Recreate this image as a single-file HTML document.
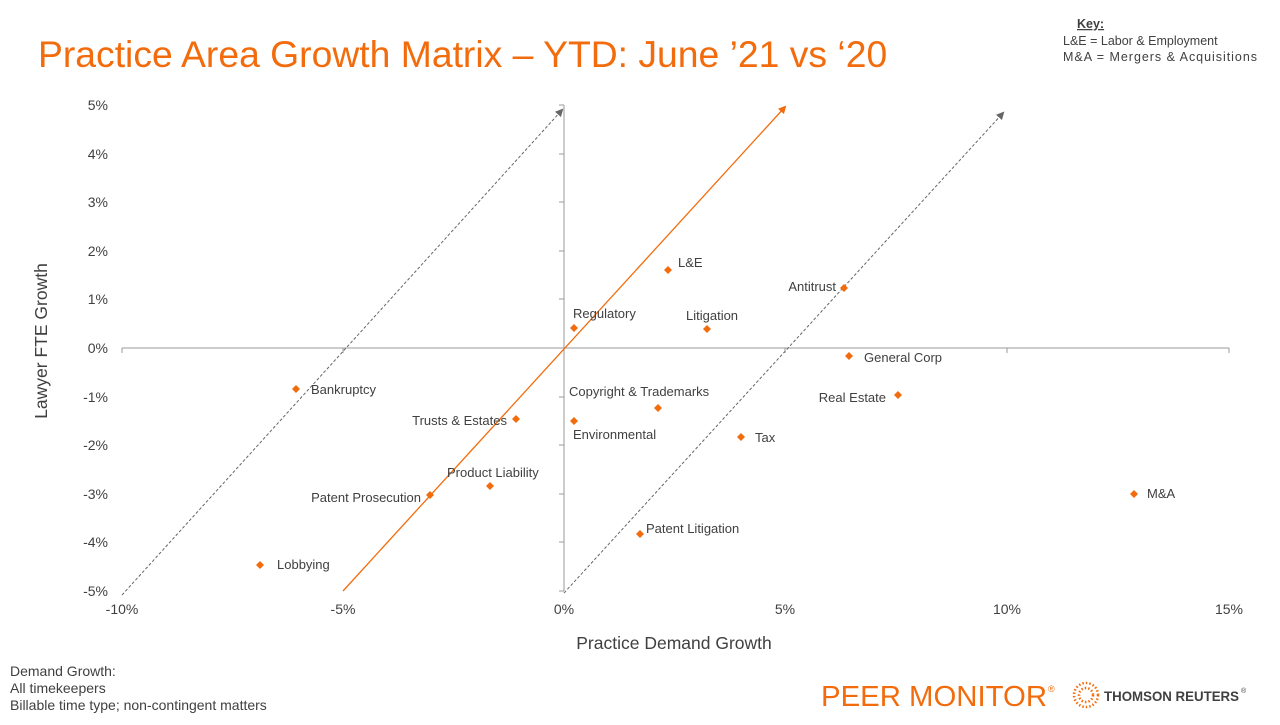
<!DOCTYPE html>
<html><head><meta charset="utf-8"><style>
body{margin:0;width:1280px;height:720px;background:#fff;overflow:hidden;font-family:"Liberation Sans",Arial,sans-serif;}
</style></head><body>
<svg width="1280" height="720" xmlns="http://www.w3.org/2000/svg" font-family="Liberation Sans, Arial, sans-serif">
<defs>
<marker id="ag" markerWidth="8" markerHeight="8" refX="6" refY="4" orient="auto" markerUnits="userSpaceOnUse"><path d="M0,0 L8,4 L0,8z" fill="#666"/></marker>
<marker id="ao" markerWidth="8" markerHeight="8" refX="6" refY="4" orient="auto" markerUnits="userSpaceOnUse"><path d="M0,0 L8,4 L0,8z" fill="#f26c0d"/></marker>
</defs>
<text x="38" y="67" font-size="37.3" fill="#f26c0d">Practice Area Growth Matrix – YTD: June ’21 vs ‘20</text>
<g font-size="12.5" fill="#404040">
<text x="1077" y="28" font-weight="bold" text-decoration="underline">Key:</text>
<text x="1063" y="45">L&amp;E = Labor  &amp; Employment</text>
<text x="1063" y="61" textLength="194">M&amp;A = Mergers  &amp; Acquisitions</text>
</g>
<g stroke="#999" stroke-width="1">
<line x1="122" y1="348" x2="1229" y2="348"/>
<line x1="564" y1="105" x2="564" y2="591"/>
<line x1="122" y1="348" x2="122" y2="353"/><line x1="343" y1="348" x2="343" y2="353"/><line x1="785" y1="348" x2="785" y2="353"/><line x1="1007" y1="348" x2="1007" y2="353"/><line x1="1229" y1="348" x2="1229" y2="353"/>
<line x1="559" y1="105" x2="564" y2="105"/><line x1="559" y1="154" x2="564" y2="154"/><line x1="559" y1="202" x2="564" y2="202"/><line x1="559" y1="251" x2="564" y2="251"/><line x1="559" y1="299" x2="564" y2="299"/><line x1="559" y1="397" x2="564" y2="397"/><line x1="559" y1="445" x2="564" y2="445"/><line x1="559" y1="494" x2="564" y2="494"/><line x1="559" y1="542" x2="564" y2="542"/><line x1="559" y1="591" x2="564" y2="591"/>
</g>
<g font-size="14" fill="#404040" text-anchor="end">
<text x="108" y="110">5%</text><text x="108" y="159">4%</text><text x="108" y="207">3%</text><text x="108" y="256">2%</text><text x="108" y="304">1%</text><text x="108" y="353">0%</text><text x="108" y="402">-1%</text><text x="108" y="450">-2%</text><text x="108" y="499">-3%</text><text x="108" y="547">-4%</text><text x="108" y="596">-5%</text>
</g>
<g font-size="14" fill="#404040" text-anchor="middle">
<text x="122" y="614">-10%</text><text x="343" y="614">-5%</text><text x="564" y="614">0%</text><text x="785" y="614">5%</text><text x="1007" y="614">10%</text><text x="1229" y="614">15%</text>
</g>
<text x="674" y="649" font-size="17.5" fill="#404040" text-anchor="middle">Practice Demand Growth</text>
<text transform="translate(47,341) rotate(-90)" font-size="17.5" fill="#404040" text-anchor="middle">Lawyer FTE Growth</text>
<line x1="122" y1="595" x2="562" y2="110" stroke="#666" stroke-dasharray="3,2" marker-end="url(#ag)"/>
<line x1="564" y1="593" x2="1003" y2="113" stroke="#666" stroke-dasharray="3,2" marker-end="url(#ag)"/>
<line x1="343" y1="591" x2="785" y2="107" stroke="#f26c0d" stroke-width="1.3" marker-end="url(#ao)"/>
<g fill="#f26c0d">
<path d="M668,266l4,4l-4,4l-4,-4z"/><path d="M844,284l4,4l-4,4l-4,-4z"/><path d="M574,324l4,4l-4,4l-4,-4z"/><path d="M707,325l4,4l-4,4l-4,-4z"/><path d="M849,352l4,4l-4,4l-4,-4z"/><path d="M296,385l4,4l-4,4l-4,-4z"/><path d="M898,391l4,4l-4,4l-4,-4z"/><path d="M658,404l4,4l-4,4l-4,-4z"/><path d="M516,415l4,4l-4,4l-4,-4z"/><path d="M574,417l4,4l-4,4l-4,-4z"/><path d="M741,433l4,4l-4,4l-4,-4z"/><path d="M490,482l4,4l-4,4l-4,-4z"/><path d="M430,491l4,4l-4,4l-4,-4z"/><path d="M1134,490l4,4l-4,4l-4,-4z"/><path d="M640,530l4,4l-4,4l-4,-4z"/><path d="M260,561l4,4l-4,4l-4,-4z"/>
</g>
<g font-size="13" fill="#404040">
<text x="678" y="267">L&amp;E</text>
<text x="836" y="291" text-anchor="end">Antitrust</text>
<text x="573" y="318">Regulatory</text>
<text x="686" y="320">Litigation</text>
<text x="864" y="362">General Corp</text>
<text x="311" y="394">Bankruptcy</text>
<text x="886" y="402" text-anchor="end">Real Estate</text>
<text x="569" y="396">Copyright  &amp; Trademarks</text>
<text x="507" y="425" text-anchor="end">Trusts &amp; Estates</text>
<text x="573" y="439">Environmental</text>
<text x="755" y="442">Tax</text>
<text x="447" y="477">Product Liability</text>
<text x="421" y="502" text-anchor="end">Patent Prosecution</text>
<text x="1147" y="498">M&amp;A</text>
<text x="646" y="533">Patent Litigation</text>
<text x="277" y="569">Lobbying</text>
</g>
<g font-size="14" fill="#404040">
<text x="10" y="676">Demand Growth:</text>
<text x="10" y="693">All timekeepers</text>
<text x="10" y="710">Billable time type; non-contingent matters</text>
</g>
<text x="821" y="706" font-size="29" fill="#f26c0d" textLength="226" lengthAdjust="spacingAndGlyphs">PEER MONITOR</text>
<text x="1048" y="692" font-size="9" fill="#f26c0d">®</text>
<g fill="none" stroke="#f26c0d" stroke-width="2.5" stroke-dasharray="1.5,2">
<circle cx="1086" cy="695" r="12"/><circle cx="1086" cy="695" r="7"/>
</g>
<text x="1104" y="701" font-size="14" font-weight="bold" fill="#404040" textLength="135" lengthAdjust="spacingAndGlyphs">THOMSON REUTERS</text>
<text x="1241" y="693" font-size="7" fill="#404040">®</text>
</svg>
</body></html>
